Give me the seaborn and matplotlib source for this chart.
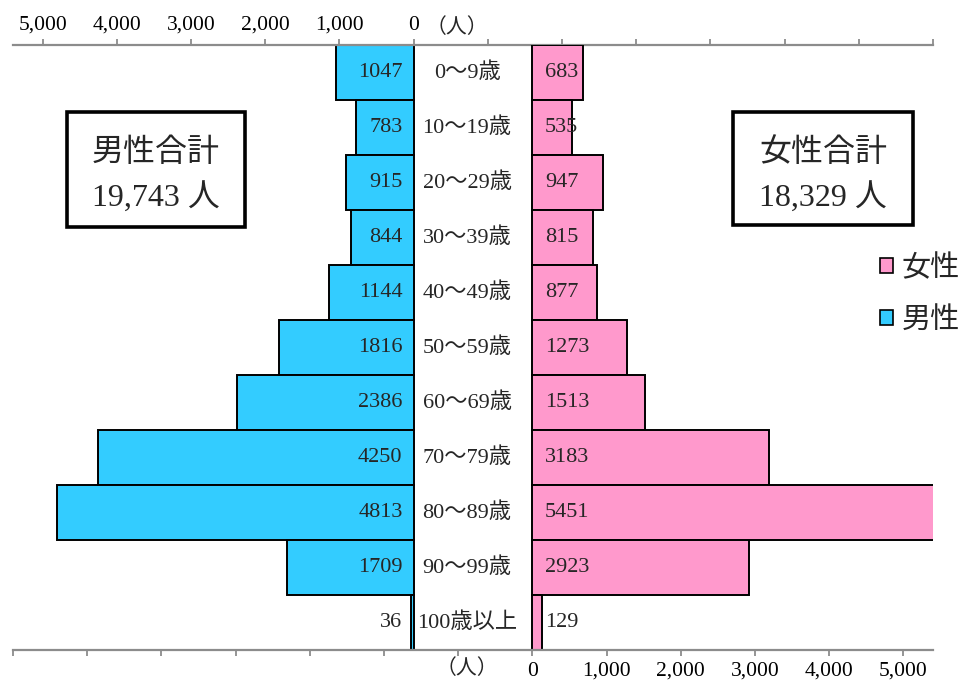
import matplotlib
matplotlib.use("Agg")
import matplotlib.pyplot as plt
from matplotlib.patches import Rectangle, Patch
import seaborn as sns
import pandas as pd

# Population by age group
age_groups = ["0～9歳", "10～19歳", "20～29歳", "30～39歳", "40～49歳",
              "50～59歳", "60～69歳", "70～79歳", "80～89歳", "90～99歳", "100歳以上"]
male = [1047, 783, 915, 844, 1144, 1816, 2386, 4250, 4813, 1709, 36]
female = [683, 535, 947, 815, 877, 1273, 1513, 3183, 5451, 2923, 129]
male_total = "19,743"
female_total = "18,329"

tick_values = list(range(-7000, 5001, 1000))
tick_labels = [f"{v:,}" if v >= 0 else "" for v in tick_values]
axis_range = (-7000, 5400)

male_color = "#33CCFF"
female_color = "#FF99CC"
axis_grey = "#8C8C8C"

sns.set_theme(style="white")
num_font = ["Liberation Serif", "Noto Sans CJK JP"]
cjk_font = ["Noto Sans CJK JP"]
plt.rcParams["font.family"] = num_font

df = pd.DataFrame({"age": age_groups, "male": male, "female": female})

W, H = 971, 686
fig = plt.figure(figsize=(W / 100, H / 100), dpi=100)
fig.patch.set_facecolor("white")

# plot area in pixels: x 13..933, y 45..650
left, right, top, bottom = 13, 933, 45, 650
rect = [left / W, 1 - bottom / H, (right - left) / W, (bottom - top) / H]
ax_m = fig.add_axes(rect)
ax_f = fig.add_axes(rect)
ax_f.patch.set_alpha(0)

sns.barplot(data=df, x="male", y="age", ax=ax_m, color=male_color, width=1.0,
            edgecolor="black", linewidth=1.4, saturation=1)
sns.barplot(data=df, x="female", y="age", ax=ax_f, color=female_color, width=1.0,
            edgecolor="black", linewidth=1.4, saturation=1)

n = len(age_groups)
for ax in (ax_m, ax_f):
    ax.set_ylim(n - 0.5, -0.5)
    ax.set_xlabel("")
    ax.set_ylabel("")
    ax.set_yticks([])
    ax.grid(False)
    for s in ax.spines.values():
        s.set_visible(False)

# male axis: reversed, labels on top
ax_m.set_xlim(axis_range[1], axis_range[0])
ax_m.xaxis.set_ticks_position("top")
ax_m.spines["top"].set_visible(True)
ax_m.spines["top"].set_color(axis_grey)
ax_m.spines["top"].set_linewidth(1.6)
ax_m.set_xticks(tick_values)
ax_m.set_xticklabels(tick_labels)
ax_m.tick_params(axis="x", direction="out", length=4.5, width=1.3, color=axis_grey,
                 labelcolor="black", labelsize=15.5, pad=3)

# female axis: normal, labels at bottom
ax_f.set_xlim(*axis_range)
ax_f.xaxis.set_ticks_position("bottom")
ax_f.spines["bottom"].set_visible(True)
ax_f.spines["bottom"].set_color(axis_grey)
ax_f.spines["bottom"].set_linewidth(1.6)
ax_f.set_xticks(tick_values)
ax_f.set_xticklabels(tick_labels)
ax_f.tick_params(axis="x", direction="out", length=4.5, width=1.3, color=axis_grey,
                 labelcolor="black", labelsize=15.5, pad=4)

# value labels near the base of each bar, age labels in the centre gap
for i, (m, f) in enumerate(zip(male, female)):
    ax_m.text(150, i, str(m), ha="right", va="center", fontsize=16, family=num_font)
    ax_f.text(170, i, str(f), ha="left", va="center", fontsize=16, family=num_font)
    ax_f.text(-880, i, age_groups[i], ha="center", va="center", fontsize=16,
              family=num_font)

# unit labels
ax_m.annotate("（人）", xy=(-580, 1.0), xycoords=("data", "axes fraction"),
              xytext=(0, 5), textcoords="offset points", ha="center", va="bottom",
              fontsize=15, family=cjk_font)
ax_f.annotate("（人）", xy=(-880, 0.0), xycoords=("data", "axes fraction"),
              xytext=(0, -5), textcoords="offset points", ha="center", va="top",
              fontsize=15, family=cjk_font)

# totals boxes
def total_box(x0, y0, x1, y1, title, total):
    fig.patches.append(Rectangle((x0 / W, 1 - y1 / H), (x1 - x0) / W, (y1 - y0) / H,
                                 transform=fig.transFigure, facecolor="white",
                                 edgecolor="black", linewidth=2.6, zorder=5))
    cx = (x0 + x1) / 2
    fig.text(cx / W, 1 - (y0 + 40) / H, title, ha="center", va="center",
             fontsize=23, family=cjk_font, zorder=6)
    fig.text(cx / W, 1 - (y0 + 86) / H, f"{total} 人", ha="center", va="center",
             fontsize=23, family=num_font, zorder=6)

total_box(67, 112, 245, 227, "男性合計", male_total)
total_box(733, 112, 913, 225, "女性合計", female_total)

# legend
handles = [Patch(facecolor=female_color, edgecolor="black", linewidth=1.2),
           Patch(facecolor=male_color, edgecolor="black", linewidth=1.2)]
fig.legend(handles, ["女性", "男性"], loc="upper left",
           bbox_to_anchor=(880 / W, 1 - 253 / H), frameon=False,
           prop={"family": cjk_font, "size": 21},
           handlelength=0.45, handleheight=0.45, handletextpad=0.3,
           labelspacing=0.75, borderpad=0, borderaxespad=0)

fig.savefig("out.png", dpi=100, facecolor="white")
